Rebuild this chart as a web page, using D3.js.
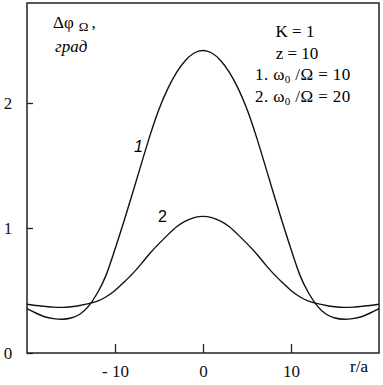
<!DOCTYPE html>
<html>
<head>
<meta charset="utf-8">
<script src="https://cdn.jsdelivr.net/npm/d3@7"></script>
<style>
  body { margin: 0; background: white; }
  text { font-family: "Liberation Serif", "Times New Roman", serif; }
</style>
</head>
<body>
<svg id="fig" width="383" height="385"></svg>
<script>
// r/a positions
var r = [-20,-19,-18,-17,-16,-15,-14,-13,-12,-11,-10,-9,-8,-7,-6,-5,-4,-3,-2,-1,
         0,1,2,3,4,5,6,7,8,9,10,11,12,13,14,15,16,17,18,19,20];
// curve 1: omega0/Omega = 10
var curve1 = [0.355,0.32,0.29,0.275,0.27,0.28,0.31,0.375,0.48,0.625,0.83,1.05,1.28,1.515,1.745,1.95,2.115,2.245,2.34,2.40,
              2.42,2.40,2.34,2.245,2.115,1.95,1.745,1.515,1.28,1.05,0.83,0.625,0.48,0.375,0.31,0.28,0.27,0.275,0.29,0.32,0.355];
// curve 2: omega0/Omega = 20
var curve2 = [0.39,0.38,0.373,0.367,0.365,0.37,0.38,0.395,0.415,0.45,0.50,0.565,0.635,0.715,0.80,0.875,0.945,1.01,1.055,1.083,
              1.093,1.083,1.055,1.01,0.945,0.875,0.80,0.715,0.635,0.565,0.50,0.45,0.415,0.395,0.38,0.37,0.365,0.367,0.373,0.38,0.39];
var xTicks = [-10, 0, 10];
var yTicks = [0, 1, 2];

function makeChart() {
  const pLeft = 27, pRight = 379, pTop = 3, pBottom = 353;
  const serif = "'Liberation Serif', 'Times New Roman', serif";
  var svg = d3.select("#fig");

  var x = d3.scaleLinear().domain([-20, 20]).range([pLeft, pRight]);
  var y = d3.scaleLinear().domain([0, 2.8]).range([pBottom, pTop]);

  // frame
  svg.append("rect")
     .attr("x", pLeft).attr("y", pTop)
     .attr("width", pRight - pLeft).attr("height", pBottom - pTop)
     .attr("fill", "none").attr("stroke", "#222").attr("stroke-width", 1.5);

  // x axis
  var gx = svg.append("g").attr("transform", "translate(0," + pBottom + ")")
              .call(d3.axisBottom(x).tickValues(xTicks).tickSize(-9)
                      .tickFormat(d => d < 0 ? "- " + (-d) : d));
  gx.attr("font-family", null);
  gx.select(".domain").remove();
  gx.selectAll("line").attr("stroke", "#222").attr("stroke-width", 1.3);
  gx.selectAll("text").attr("y", 24).attr("dy", null)
    .style("font-family", serif).style("font-size", "17px").attr("fill", "#111");

  // y axis
  var gy = svg.append("g").attr("transform", "translate(" + pLeft + ",0)")
              .call(d3.axisLeft(y).tickValues(yTicks).tickSize(-6).tickFormat(d3.format("d")));
  gy.attr("font-family", null);
  gy.select(".domain").remove();
  gy.selectAll("line").attr("stroke", "#222").attr("stroke-width", 1.3);
  gy.selectAll("text").attr("x", -19).attr("text-anchor", "middle")
    .style("font-family", serif).style("font-size", "17px").attr("fill", "#111");

  // axis titles
  svg.append("text").attr("x", 350).attr("y", 372)
     .style("font-size", "17px").text("r/a");

  var yl = svg.append("text").attr("x", 53).attr("y", 28).style("font-size", "17px");
  yl.append("tspan").text("Δφ");
  yl.append("tspan").attr("dx", 5).attr("dy", 3).style("font-size", "13px").text("Ω");
  yl.append("tspan").attr("dx", 3).attr("dy", -3).text(",");
  svg.append("text").attr("x", 55).attr("y", 52)
     .style("font-size", "17px").style("font-style", "italic").text("град");

  // parameters
  svg.append("text").attr("x", 295).attr("y", 37).attr("text-anchor", "middle")
     .style("font-size", "17px").text("K = 1");
  svg.append("text").attr("x", 297).attr("y", 59).attr("text-anchor", "middle")
     .style("font-size", "17px").text("z = 10");
  [["1.", "10", 80], ["2.", "20", 102]].forEach(function(p) {
    var t = svg.append("text").attr("x", 255).attr("y", p[2])
               .style("font-size", "17px").style("letter-spacing", "0.4px");
    t.append("tspan").text(p[0] + " ω");
    t.append("tspan").attr("dy", 3).style("font-size", "11px").text("0");
    t.append("tspan").attr("dy", -3).text(" /Ω = " + p[1]);
  });

  // curves
  var line = d3.line().x((d, i) => x(r[i])).y(d => y(d)).curve(d3.curveNatural);
  [curve1, curve2].forEach(function(c) {
    svg.append("path").datum(c).attr("d", line)
       .attr("fill", "none").attr("stroke", "#111").attr("stroke-width", 1.4);
  });

  // curve labels
  svg.append("text").attr("x", 134).attr("y", 152)
     .style("font-family", "'Liberation Sans', Arial, sans-serif").style("font-style", "italic")
     .style("font-size", "16px").text("1");
  svg.append("text").attr("x", 158).attr("y", 222)
     .style("font-family", "'Liberation Sans', Arial, sans-serif").style("font-size", "16px").text("2");
}
makeChart();
</script>
</body>
</html>
